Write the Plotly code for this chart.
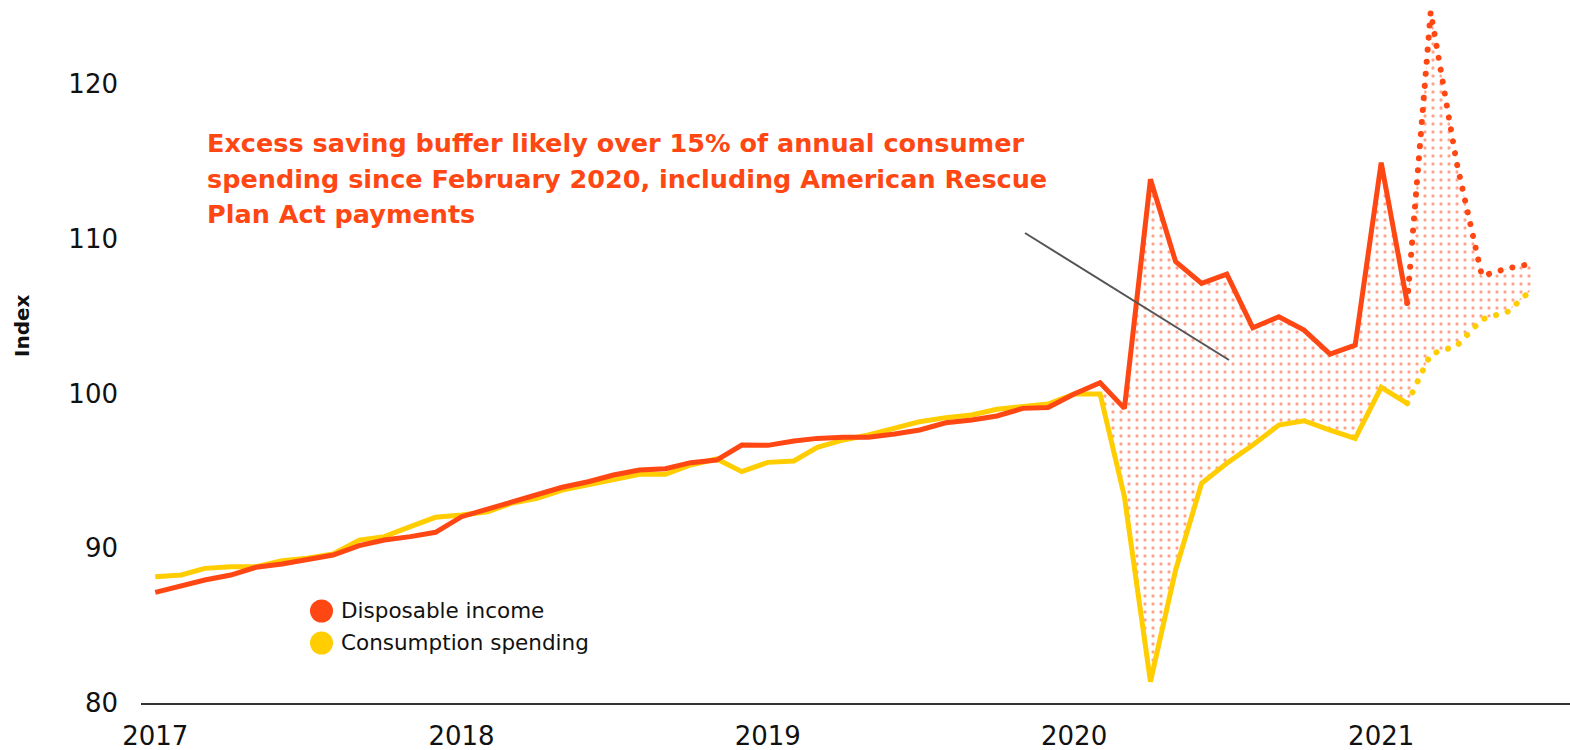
import plotly.graph_objects as go
import pandas as pd

months = pd.date_range("2017-01-01", "2021-07-01", freq="MS").strftime("%Y-%m-%d").tolist()

income = [
    87.15, 87.58, 87.95, 88.27, 88.77, 88.98, 89.24, 89.56, 90.17, 90.53, 90.75, 91.03,
    92.04, 92.54, 93.00, 93.44, 93.94, 94.30, 94.73, 95.06, 95.14, 95.53, 95.70, 96.67,
    96.65, 96.93, 97.10, 97.17, 97.17, 97.38, 97.64, 98.11, 98.29, 98.55, 99.04, 99.10,
    99.97, 100.70, 99.04, 113.84, 108.52, 107.12, 107.72, 104.25, 104.96, 104.10, 102.55, 103.13,
    114.92, 105.85, 124.67, 114.90, 107.60, 108.09, 108.41,
]
spending = [
    88.16, 88.27, 88.70, 88.81, 88.81, 89.20, 89.35, 89.63, 90.53, 90.75, 91.40, 92.00,
    92.15, 92.36, 92.90, 93.23, 93.76, 94.09, 94.45, 94.78, 94.78, 95.38, 95.77, 94.95,
    95.55, 95.64, 96.52, 97.00, 97.32, 97.75, 98.18, 98.44, 98.61, 98.98, 99.15, 99.32,
    99.97, 99.97, 93.33, 81.38, 88.60, 94.20, 95.49, 96.67, 97.96, 98.24, 97.64, 97.10,
    100.40, 99.37, 102.55, 103.07, 104.79, 105.29, 106.80,
]

actual_end = "2021-02-01"      # last actual observation; later months are estimates
fill_start = "2020-02-01"      # excess saving shading starts

y_ticks = [80, 90, 100, 110, 120]
x_tick_vals = ["2017-01-01", "2018-01-01", "2019-01-01", "2020-01-01", "2021-01-01"]
x_tick_text = ["2017", "2018", "2019", "2020", "2021"]

title_lines = [
    "Excess saving buffer likely over 15% of annual consumer",
    "spending since February 2020, including American Rescue",
    "Plan Act payments",
]
legend_names = ["Disposable income", "Consumption spending"]

ORANGE = "#FF4713"
YELLOW = "#FFCD00"
FONT = "DejaVu Sans, Verdana, sans-serif"

df = pd.DataFrame({"date": months, "income": income, "spending": spending})
solid = df[df["date"] <= actual_end]
est = df[df["date"] >= actual_end]
fill = df[df["date"] >= fill_start]

fig = go.Figure()

# shaded excess-saving area
fig.add_trace(go.Scatter(x=fill["date"], y=fill["spending"], mode="lines",
                         line=dict(width=0, color=YELLOW), hoverinfo="skip", showlegend=False))
fig.add_trace(go.Scatter(x=fill["date"], y=fill["income"], mode="lines", fill="tonexty",
                         line=dict(width=0, color=ORANGE), fillcolor="rgba(255,255,255,0)",
                         fillpattern=dict(shape=".", fgcolor=ORANGE, bgcolor="rgba(255,255,255,0)",
                                          size=8, solidity=0.13),
                         hoverinfo="skip", showlegend=False))

# estimated (dotted) parts
fig.add_trace(go.Scatter(x=est["date"], y=est["spending"], mode="lines",
                         line=dict(color=YELLOW, width=6, dash="0.1px,12px"), showlegend=False))
fig.add_trace(go.Scatter(x=est["date"], y=est["income"], mode="lines",
                         line=dict(color=ORANGE, width=6, dash="0.1px,12px"), showlegend=False))

# actual (solid) parts
fig.add_trace(go.Scatter(x=solid["date"], y=solid["spending"], mode="lines",
                         line=dict(color=YELLOW, width=5), name=legend_names[1], showlegend=False))
fig.add_trace(go.Scatter(x=solid["date"], y=solid["income"], mode="lines",
                         line=dict(color=ORANGE, width=5), name=legend_names[0], showlegend=False))

W, H = 1570, 750
ML, MB = 141, 47
PW, PH = W - ML, H - MB


def px(x):
    return (x - ML) / PW


def py(y):
    return 1 - y / PH


annotations = []
for line, yc in zip(title_lines, [143, 179, 214]):
    annotations.append(dict(text=line, xref="paper", yref="paper", x=px(205), y=py(yc),
                            xanchor="left", yanchor="middle", showarrow=False,
                            font=dict(family=FONT, size=25.5, color=ORANGE, weight="bold")))

for name, yc in zip(legend_names, [610, 642]):
    annotations.append(dict(text=name, xref="paper", yref="paper", x=px(339), y=py(yc),
                            xanchor="left", yanchor="middle", showarrow=False,
                            font=dict(family=FONT, size=21.5, color="#111111")))

annotations.append(dict(text="Index", xref="paper", yref="paper", x=px(22), y=py(325),
                        xanchor="center", yanchor="middle", textangle=-90, showarrow=False,
                        font=dict(family=FONT, size=20, color="#111111", weight="bold")))

shapes = [
    dict(type="line", xref="paper", yref="paper", x0=px(1025), y0=py(233), x1=px(1229), y1=py(360),
         line=dict(color="#555555", width=2)),
]
for col, yc in zip([ORANGE, YELLOW], [611, 643]):
    shapes.append(dict(type="circle", xref="paper", yref="paper", xsizemode="pixel", ysizemode="pixel",
                       xanchor=px(321.5), yanchor=py(yc), x0=-11.5, x1=11.5, y0=-11.5, y1=11.5,
                       fillcolor=col, line=dict(width=0)))

fig.update_layout(
    width=W, height=H,
    margin=dict(l=ML, r=0, t=0, b=MB, pad=0),
    paper_bgcolor="white", plot_bgcolor="white",
    showlegend=False,
    font=dict(family=FONT, color="#111111"),
    annotations=annotations,
    shapes=shapes,
    xaxis=dict(type="date", range=["2016-12-15", "2021-08-14"], tickvals=x_tick_vals, ticktext=x_tick_text,
               showgrid=False, zeroline=False, showline=True, linecolor="#333333", linewidth=2,
               automargin=False,
               ticks="", ticklabelstandoff=9, tickfont=dict(size=26, color="#111111", family=FONT)),
    yaxis=dict(range=[80, 125.43], tickvals=y_ticks, showgrid=False, zeroline=False, showline=False,
               automargin=False,
               ticks="", ticklabelstandoff=22, tickfont=dict(size=26, color="#111111", family=FONT)),
)

post = """
setTimeout(function(){
  document.querySelectorAll('path.js-line').forEach(function(p){
    var d = p.style.strokeDasharray;
    if (d && d !== 'none') { p.style.strokeLinecap = 'round'; }
  });
}, 200);
"""

fig.write_html("out.html", post_script=post)
